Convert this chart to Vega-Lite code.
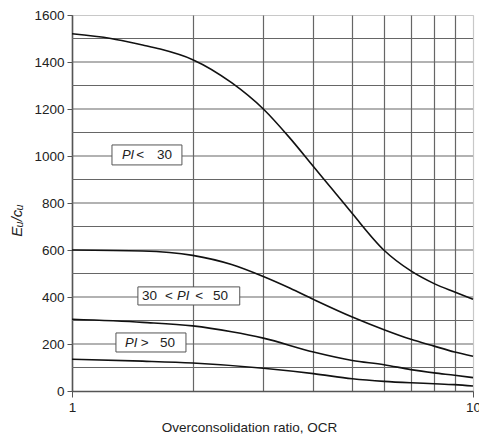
{
  "$schema": "https://vega.github.io/schema/vega-lite/v6.json",
  "width": 401,
  "height": 376,
  "autosize": {"type": "none"},
  "padding": {"left": 72, "top": 15, "right": 6, "bottom": 47},
  "background": "white",
  "config": {
    "view": {"stroke": "#c8c8c8", "strokeWidth": 1},
    "font": "Liberation Sans",
    "axis": {
      "labelFont": "Liberation Sans", "titleFont": "Liberation Sans",
      "labelColor": "#222", "titleColor": "#222",
      "labelFontSize": 13.5, "labelPadding": 3, "labelFlush": false,
      "domainColor": "#555", "domainWidth": 1.5,
      "gridWidth": 1.2, "gridOpacity": 1,
      "titleFontWeight": "normal"
    }
  },
  "datasets": {
    "hgrid": [
      {"v": 100}, {"v": 200}, {"v": 300}, {"v": 400}, {"v": 500},
      {"v": 600}, {"v": 700}, {"v": 800}, {"v": 900}, {"v": 1000},
      {"v": 1100}, {"v": 1200}, {"v": 1300}, {"v": 1400}, {"v": 1500}
    ],
    "curves": [
      {"curve": "A", "ocr": 1, "v": 1520},
      {"curve": "A", "ocr": 1.25, "v": 1500},
      {"curve": "A", "ocr": 1.5, "v": 1472},
      {"curve": "A", "ocr": 1.66, "v": 1455},
      {"curve": "A", "ocr": 2, "v": 1410},
      {"curve": "A", "ocr": 2.5, "v": 1312},
      {"curve": "A", "ocr": 3, "v": 1200},
      {"curve": "A", "ocr": 3.5, "v": 1075},
      {"curve": "A", "ocr": 4, "v": 955},
      {"curve": "A", "ocr": 4.5, "v": 850},
      {"curve": "A", "ocr": 5, "v": 755},
      {"curve": "A", "ocr": 6, "v": 599},
      {"curve": "A", "ocr": 7, "v": 511},
      {"curve": "A", "ocr": 8, "v": 457},
      {"curve": "A", "ocr": 9, "v": 421},
      {"curve": "A", "ocr": 10, "v": 390},
      {"curve": "B", "ocr": 1, "v": 600},
      {"curve": "B", "ocr": 1.5, "v": 596},
      {"curve": "B", "ocr": 2, "v": 577},
      {"curve": "B", "ocr": 2.5, "v": 538},
      {"curve": "B", "ocr": 3, "v": 487},
      {"curve": "B", "ocr": 3.5, "v": 437},
      {"curve": "B", "ocr": 4, "v": 390},
      {"curve": "B", "ocr": 5, "v": 315},
      {"curve": "B", "ocr": 6, "v": 261},
      {"curve": "B", "ocr": 7, "v": 220},
      {"curve": "B", "ocr": 8, "v": 191},
      {"curve": "B", "ocr": 9, "v": 166},
      {"curve": "B", "ocr": 10, "v": 148},
      {"curve": "C", "ocr": 1, "v": 305},
      {"curve": "C", "ocr": 1.5, "v": 292},
      {"curve": "C", "ocr": 2, "v": 277},
      {"curve": "C", "ocr": 2.5, "v": 252},
      {"curve": "C", "ocr": 3, "v": 225},
      {"curve": "C", "ocr": 4, "v": 166},
      {"curve": "C", "ocr": 5, "v": 130},
      {"curve": "C", "ocr": 6, "v": 112},
      {"curve": "C", "ocr": 7, "v": 91},
      {"curve": "C", "ocr": 8, "v": 77},
      {"curve": "C", "ocr": 9, "v": 67},
      {"curve": "C", "ocr": 10, "v": 57},
      {"curve": "D", "ocr": 1, "v": 135},
      {"curve": "D", "ocr": 1.5, "v": 127},
      {"curve": "D", "ocr": 2, "v": 119},
      {"curve": "D", "ocr": 3, "v": 97},
      {"curve": "D", "ocr": 4, "v": 74},
      {"curve": "D", "ocr": 5, "v": 52},
      {"curve": "D", "ocr": 6, "v": 41},
      {"curve": "D", "ocr": 7, "v": 35},
      {"curve": "D", "ocr": 8, "v": 31},
      {"curve": "D", "ocr": 9, "v": 27},
      {"curve": "D", "ocr": 10, "v": 21}
    ],
    "boxes": [
      {"ocr": 1.258, "ocr2": 1.88, "v": 962, "v2": 1047},
      {"ocr": 1.46, "ocr2": 2.62, "v": 366, "v2": 443},
      {"ocr": 1.287, "ocr2": 1.924, "v": 166, "v2": 247}
    ],
    "italic": [
      {"ocr": 1.332, "v": 1004, "t": "PI"},
      {"ocr": 1.827, "v": 404, "t": "PI"},
      {"ocr": 1.356, "v": 206, "t": "PI"}
    ],
    "plain": [
      {"ocr": 1.447, "v": 1004, "t": "<"},
      {"ocr": 1.629, "v": 1004, "t": "30"},
      {"ocr": 1.495, "v": 404, "t": "30"},
      {"ocr": 1.706, "v": 404, "t": "<"},
      {"ocr": 2.03, "v": 404, "t": "<"},
      {"ocr": 2.247, "v": 404, "t": "50"},
      {"ocr": 1.485, "v": 206, "t": ">"},
      {"ocr": 1.658, "v": 206, "t": "50"}
    ]
  },
  "layer": [
    {
      "data": {"name": "hgrid"},
      "mark": {"type": "rule", "color": "#666", "strokeWidth": 1.2},
      "encoding": {
        "y": {"field": "v", "type": "quantitative", "title": "Eᵤ/cᵤ"}
      }
    },
    {
      "data": {"name": "curves"},
      "mark": {"type": "line", "color": "#111", "strokeWidth": 1.6, "interpolate": "monotone"},
      "encoding": {
        "x": {
          "field": "ocr", "type": "quantitative",
          "scale": {"type": "log", "domain": [1, 10], "nice": false},
          "title": "Overconsolidation ratio, OCR",
          "axis": {
            "values": [1, 2, 3, 4, 5, 6, 7, 8, 9, 10],
            "labelExpr": "datum.value == 1 || datum.value == 10 ? format(datum.value, 'd') : ''",
            "tickSize": 6,
            "tickColor": {"condition": {"test": "datum.value == 1 || datum.value == 10", "value": "#555"}, "value": "transparent"},
            "grid": true,
            "gridColor": {"condition": {"test": "datum.value == 10", "value": "#c8c8c8"}, "value": "#666"},
            "titleFontSize": 13.5,
            "titleAnchor": null,
            "titleAlign": "center",
            "titleBaseline": "alphabetic",
            "titleX": 177,
            "titleY": 40
          }
        },
        "y": {
          "field": "v", "type": "quantitative",
          "scale": {"domain": [0, 1600], "nice": false},
          "title": "Eᵤ/cᵤ",
          "axis": {
            "values": [0, 200, 400, 600, 800, 1000, 1200, 1400, 1600],
            "format": "d",
            "tickSize": 5,
            "tickColor": "#555",
            "grid": false,
            "titleFontSize": 15,
            "titleFontStyle": "italic",
            "titleAnchor": null,
            "titleAngle": -90,
            "titleAlign": "center",
            "titleBaseline": "middle",
            "titleX": -56,
            "titleY": 205
          }
        },
        "detail": {"field": "curve"}
      }
    },
    {
      "data": {"name": "boxes"},
      "mark": {"type": "rect", "fill": "white", "stroke": "#555", "strokeWidth": 1},
      "encoding": {
        "x": {"field": "ocr", "type": "quantitative", "title": "Overconsolidation ratio, OCR"},
        "x2": {"field": "ocr2"},
        "y": {"field": "v", "type": "quantitative", "title": "Eᵤ/cᵤ"},
        "y2": {"field": "v2"}
      }
    },
    {
      "data": {"name": "italic"},
      "mark": {"type": "text", "align": "left", "baseline": "middle", "fontSize": 13, "fontStyle": "italic", "color": "#222"},
      "encoding": {
        "x": {"field": "ocr", "type": "quantitative", "title": "Overconsolidation ratio, OCR"},
        "y": {"field": "v", "type": "quantitative", "title": "Eᵤ/cᵤ"},
        "text": {"field": "t"}
      }
    },
    {
      "data": {"name": "plain"},
      "mark": {"type": "text", "align": "left", "baseline": "middle", "fontSize": 13.5, "color": "#222"},
      "encoding": {
        "x": {"field": "ocr", "type": "quantitative", "title": "Overconsolidation ratio, OCR"},
        "y": {"field": "v", "type": "quantitative", "title": "Eᵤ/cᵤ"},
        "text": {"field": "t"}
      }
    }
  ]
}
